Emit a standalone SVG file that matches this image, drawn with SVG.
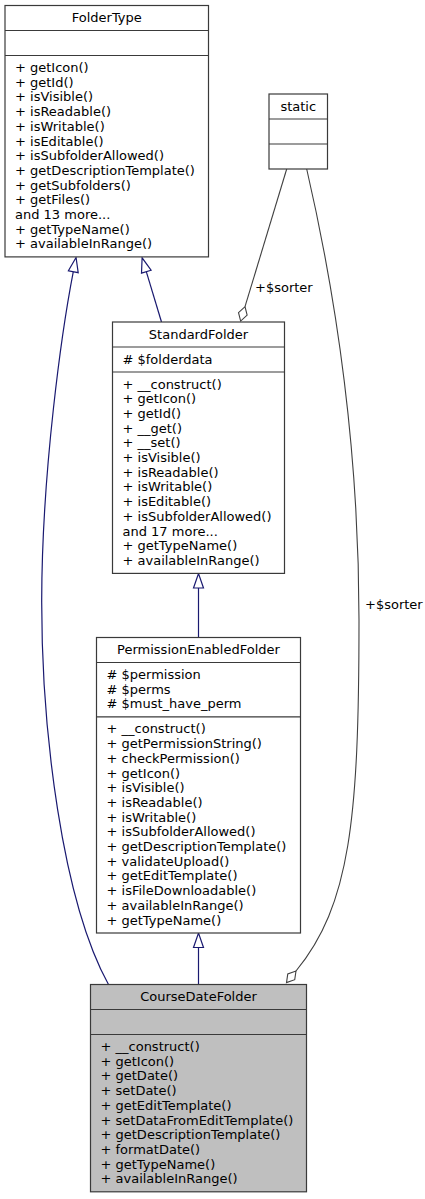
<svg xmlns="http://www.w3.org/2000/svg" width="425" height="1199" viewBox="0 0 425 1199">
<style>
.box{fill:#ffffff;stroke:#3a3a3a;stroke-width:1.2}
.cur{fill:#bfbfbf;stroke:#3a3a3a;stroke-width:1.2}
.sep{stroke:#3a3a3a;stroke-width:1.2;fill:none}
text{font-family:"DejaVu Sans","Liberation Sans",sans-serif;font-size:13px;fill:#000000}
.c{text-anchor:middle}
.inh{fill:none;stroke:#191970;stroke-width:1.2}
.agg{fill:none;stroke:#404040;stroke-width:1.1}
</style>
<defs>
<marker id="tri" viewBox="0 0 14.5 10" refX="0" refY="5" markerWidth="14.5" markerHeight="10" orient="auto" markerUnits="userSpaceOnUse" overflow="visible">
<path d="M0,0 L14.5,5 L0,10 Z" fill="#ffffff" stroke="#191970" stroke-width="1.2"/>
</marker>
<marker id="dia" viewBox="0 0 15 9" refX="0" refY="4.5" markerWidth="15" markerHeight="9" orient="auto" markerUnits="userSpaceOnUse" overflow="visible">
<path d="M0,4.5 L7.5,0 L15,4.5 L7.5,9 Z" fill="#ffffff" stroke="#404040" stroke-width="1.1"/>
</marker>
</defs>

<g id="connectors">
<path class="inh" d="M108.5,984.5 C62,900 41.5,730 41.7,600 C42,470 62,330 73.3,271.7" marker-end="url(#tri)"/>
<path class="inh" d="M161.5,322 L146.3,271.7" marker-end="url(#tri)"/>
<path class="inh" d="M198.5,637.5 L198.5,588" marker-end="url(#tri)"/>
<path class="inh" d="M198.5,984.5 L198.5,947.5" marker-end="url(#tri)"/>
<path class="agg" d="M286.7,169 L245,306.7" marker-end="url(#dia)"/>
<path class="agg" d="M306.7,169 C330,270 359,430 359,620 C359,820 350,905 296,971" marker-end="url(#dia)"/>
<text x="255" y="292">+$sorter</text>
<text x="365" y="609">+$sorter</text>
</g>

<g id="FolderType">
<rect class="box" x="5" y="5.5" width="203.5" height="251.4"/>
<line class="sep" x1="5" y1="30.5" x2="208.5" y2="30.5"/>
<line class="sep" x1="5" y1="55.5" x2="208.5" y2="55.5"/>
<text class="c" x="106.75" y="22">FolderType</text>
<text x="15"><tspan x="15" y="72">+ getIcon()</tspan><tspan x="15" y="86.7">+ getId()</tspan><tspan x="15" y="101.4">+ isVisible()</tspan><tspan x="15" y="116.1">+ isReadable()</tspan><tspan x="15" y="130.8">+ isWritable()</tspan><tspan x="15" y="145.5">+ isEditable()</tspan><tspan x="15" y="160.2">+ isSubfolderAllowed()</tspan><tspan x="15" y="174.9">+ getDescriptionTemplate()</tspan><tspan x="15" y="189.6">+ getSubfolders()</tspan><tspan x="15" y="204.3">+ getFiles()</tspan><tspan x="15" y="219">and 13 more...</tspan><tspan x="15" y="233.7">+ getTypeName()</tspan><tspan x="15" y="248.4">+ availableInRange()</tspan></text>
</g>

<g id="static">
<rect class="box" x="269" y="94" width="58.5" height="75"/>
<line class="sep" x1="269" y1="119" x2="327.5" y2="119"/>
<line class="sep" x1="269" y1="144" x2="327.5" y2="144"/>
<text class="c" x="298.25" y="110.5">static</text>
</g>

<g id="StandardFolder">
<rect class="box" x="112.5" y="322" width="172" height="251.4"/>
<line class="sep" x1="112.5" y1="347" x2="284.5" y2="347"/>
<line class="sep" x1="112.5" y1="372" x2="284.5" y2="372"/>
<text class="c" x="198.5" y="338.5">StandardFolder</text>
<text x="122.5" y="363.5"># $folderdata</text>
<text x="122.5"><tspan x="122.5" y="388.5">+ __construct()</tspan><tspan x="122.5" y="403.2">+ getIcon()</tspan><tspan x="122.5" y="417.9">+ getId()</tspan><tspan x="122.5" y="432.6">+ __get()</tspan><tspan x="122.5" y="447.3">+ __set()</tspan><tspan x="122.5" y="462">+ isVisible()</tspan><tspan x="122.5" y="476.7">+ isReadable()</tspan><tspan x="122.5" y="491.4">+ isWritable()</tspan><tspan x="122.5" y="506.1">+ isEditable()</tspan><tspan x="122.5" y="520.8">+ isSubfolderAllowed()</tspan><tspan x="122.5" y="535.5">and 17 more...</tspan><tspan x="122.5" y="550.2">+ getTypeName()</tspan><tspan x="122.5" y="564.9">+ availableInRange()</tspan></text>
</g>

<g id="PermissionEnabledFolder">
<rect class="box" x="96.5" y="637.5" width="204" height="295.5"/>
<line class="sep" x1="96.5" y1="662.5" x2="300.5" y2="662.5"/>
<line class="sep" x1="96.5" y1="716.9" x2="300.5" y2="716.9"/>
<text class="c" x="198.5" y="654">PermissionEnabledFolder</text>
<text x="106.5"><tspan x="106.5" y="679"># $permission</tspan><tspan x="106.5" y="693.7"># $perms</tspan><tspan x="106.5" y="708.4"># $must_have_perm</tspan></text>
<text x="106.5"><tspan x="106.5" y="733.4">+ __construct()</tspan><tspan x="106.5" y="748.1">+ getPermissionString()</tspan><tspan x="106.5" y="762.8">+ checkPermission()</tspan><tspan x="106.5" y="777.5">+ getIcon()</tspan><tspan x="106.5" y="792.2">+ isVisible()</tspan><tspan x="106.5" y="806.9">+ isReadable()</tspan><tspan x="106.5" y="821.6">+ isWritable()</tspan><tspan x="106.5" y="836.3">+ isSubfolderAllowed()</tspan><tspan x="106.5" y="851">+ getDescriptionTemplate()</tspan><tspan x="106.5" y="865.7">+ validateUpload()</tspan><tspan x="106.5" y="880.4">+ getEditTemplate()</tspan><tspan x="106.5" y="895.1">+ isFileDownloadable()</tspan><tspan x="106.5" y="909.8">+ availableInRange()</tspan><tspan x="106.5" y="924.5">+ getTypeName()</tspan></text>
</g>

<g id="CourseDateFolder">
<rect class="cur" x="90.5" y="984.5" width="216" height="207.3"/>
<line class="sep" x1="90.5" y1="1009.5" x2="306.5" y2="1009.5"/>
<line class="sep" x1="90.5" y1="1034.5" x2="306.5" y2="1034.5"/>
<text class="c" x="198.5" y="1001">CourseDateFolder</text>
<text x="100.5"><tspan x="100.5" y="1051">+ __construct()</tspan><tspan x="100.5" y="1065.7">+ getIcon()</tspan><tspan x="100.5" y="1080.4">+ getDate()</tspan><tspan x="100.5" y="1095.1">+ setDate()</tspan><tspan x="100.5" y="1109.8">+ getEditTemplate()</tspan><tspan x="100.5" y="1124.5">+ setDataFromEditTemplate()</tspan><tspan x="100.5" y="1139.2">+ getDescriptionTemplate()</tspan><tspan x="100.5" y="1153.9">+ formatDate()</tspan><tspan x="100.5" y="1168.6">+ getTypeName()</tspan><tspan x="100.5" y="1183.3">+ availableInRange()</tspan></text>
</g>
</svg>
